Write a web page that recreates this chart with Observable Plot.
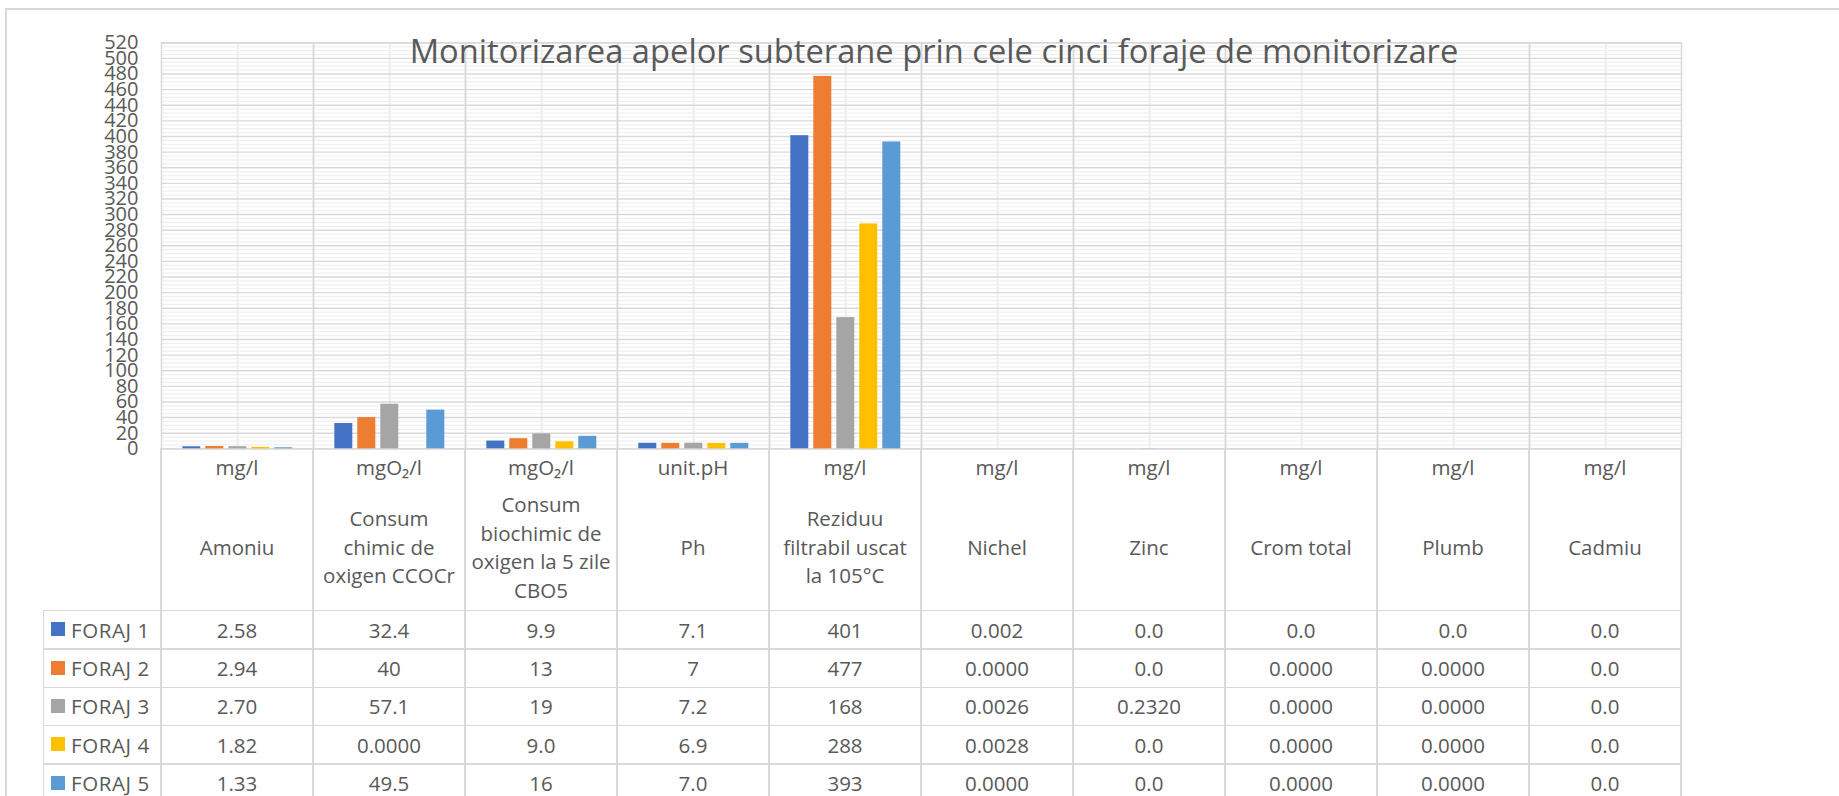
<!DOCTYPE html>
<html>
<head>
<meta charset="utf-8">
<script src="https://cdn.jsdelivr.net/npm/d3@7"></script>
<script src="https://cdn.jsdelivr.net/npm/@observablehq/plot@0.6"></script>
<style>
  html, body { margin: 0; padding: 0; background: #fff; }
  #wrap { position: relative; width: 1839px; height: 796px; overflow: hidden; font-family: 'Open Sans', sans-serif; color: #595959; }
  .ln { position: absolute; background: #d9d9d9; }
  .cell { position: absolute; display: flex; align-items: center; justify-content: center; text-align: center; font-size: 20.5px; white-space: pre-line; }
  .leg { letter-spacing: 0.6px; }
  #title { position: absolute; left: 0; width: 1868px; top: 35px; text-align: center; font-size: 32.7px; line-height: 32.7px; color: #595959; white-space: nowrap; }
</style>
</head>
<body>
<div id="wrap">
  <div class="ln" style="left:5px;top:8px;width:1.5px;height:800px;"></div>
  <div class="ln" style="left:5px;top:8px;width:1840px;height:1.5px;"></div>
  <div id="chart" style="position:absolute;left:0;top:0;"></div>
  <div id="table"></div>
  <div id="title">Monitorizarea apelor subterane prin cele cinci foraje de monitorizare</div>
</div>
<script>
// ---- data ----
const categories = ["Amoniu", "Consum\nchimic de\noxigen CCOCr", "Consum\nbiochimic de\noxigen la 5 zile\nCBO5", "Ph", "Reziduu\nfiltrabil uscat\nla 105°C", "Nichel", "Zinc", "Crom total", "Plumb", "Cadmiu"];
const units = ["mg/l", "mgO₂/l", "mgO₂/l", "unit.pH", "mg/l", "mg/l", "mg/l", "mg/l", "mg/l", "mg/l"];
const series = ["FORAJ 1", "FORAJ 2", "FORAJ 3", "FORAJ 4", "FORAJ 5"];
const colors = ["#4472C4", "#ED7D31", "#A5A5A5", "#FFC000", "#5B9BD5"];

const foraj1 = [2.58, 32.4, 9.9, 7.1, 401, 0.002, 0, 0, 0, 0];
const foraj2 = [2.94, 40, 13, 7, 477, 0, 0, 0, 0, 0];
const foraj3 = [2.70, 57.1, 19, 7.2, 168, 0.0026, 0.232, 0, 0, 0];
const foraj4 = [1.82, 0, 9.0, 6.9, 288, 0.0028, 0, 0, 0, 0];
const foraj5 = [1.33, 49.5, 16, 7.0, 393, 0, 0, 0, 0, 0];

const labels1 = ["2.58", "32.4", "9.9", "7.1", "401", "0.002", "0.0", "0.0", "0.0", "0.0"];
const labels2 = ["2.94", "40", "13", "7", "477", "0.0000", "0.0", "0.0000", "0.0000", "0.0"];
const labels3 = ["2.70", "57.1", "19", "7.2", "168", "0.0026", "0.2320", "0.0000", "0.0000", "0.0"];
const labels4 = ["1.82", "0.0000", "9.0", "6.9", "288", "0.0028", "0.0", "0.0000", "0.0000", "0.0"];
const labels5 = ["1.33", "49.5", "16", "7.0", "393", "0.0000", "0.0", "0.0000", "0.0000", "0.0"];

const yMax = 520;
const majorStep = 20;
const minorStep = 5;

// ---- build ----
const values = [foraj1, foraj2, foraj3, foraj4, foraj5];
const labels = [labels1, labels2, labels3, labels4, labels5];
const rows = [];
series.forEach((s, j) => categories.forEach((c, i) => rows.push({cat: c, series: s, value: values[j][i]})));
const majorTicks = d3.range(0, yMax + 1, majorStep);
const minorTicks = d3.range(0, yMax + 1, minorStep).filter(v => v % majorStep !== 0);

const plot = Plot.plot({
  width: 1839,
  height: 452,
  marginLeft: 156.7,
  marginRight: 153.5,
  marginTop: 42.3,
  marginBottom: 3.7,
  style: {fontFamily: "'Open Sans', sans-serif", fontSize: "20px", color: "#595959", background: "transparent", overflow: "visible"},
  fx: {domain: categories, padding: 0, axis: null},
  x: {domain: series, paddingInner: 0.213, paddingOuter: 0.857, axis: null},
  y: {domain: [0, yMax], ticks: majorTicks, tickSize: 0, tickPadding: 23, label: null},
  color: {domain: series, range: colors},
  marks: [
    Plot.ruleY(minorTicks, {stroke: "#f0f0f0", strokeWidth: 1.2}),
    Plot.ruleX([series[2]], {stroke: "#eeeeee", strokeWidth: 2}),
    Plot.ruleY(majorTicks, {stroke: "#d9d9d9", strokeWidth: 1.4}),
    Plot.frame({stroke: "#d9d9d9", strokeWidth: 1.5}),
    Plot.barY(rows, {fx: "cat", x: "series", y: "value", fill: "series"})
  ]
});
document.getElementById("chart").appendChild(plot);

// ---- data table aligned to the fx scale ----
const fx = plot.scale("fx");
const bw = fx.bandwidth;
const left = c => (fx.apply ? fx.apply(c) : fx.range[0] + categories.indexOf(c) * fx.step);
const tbl = document.getElementById("table");
function add(html, style, cls) {
  const d = document.createElement("div");
  d.className = cls;
  d.style.cssText = style;
  if (html != null) d.textContent = html;
  tbl.appendChild(d);
}
const headTop = 448.3, headBottom = 610.7, rowH = 38.3, legendLeft = 43.3;
const xEnd = left(categories[categories.length - 1]) + bw;
// vertical lines
categories.forEach(c => add(null, `left:${left(c) - 0.75}px;top:${headTop}px;width:1.5px;height:400px;`, "ln"));
add(null, `left:${xEnd - 0.75}px;top:${headTop}px;width:1.5px;height:400px;`, "ln");
add(null, `left:${legendLeft - 0.75}px;top:${headBottom}px;width:1.5px;height:400px;`, "ln");
// horizontal lines
for (let r = 0; r <= series.length; r++) {
  const y = headBottom + r * rowH;
  add(null, `left:${legendLeft}px;top:${y - 0.75}px;width:${xEnd - legendLeft}px;height:1.5px;`, "ln");
}
// header cells
categories.forEach((c, i) => {
  const L = left(c);
  add(units[i], `left:${L}px;top:449px;width:${bw}px;height:36px;line-height:36px;`, "cell");
  add(c, `left:${L}px;top:485px;width:${bw}px;height:124px;line-height:28.5px;`, "cell");
});
// rows
series.forEach((s, j) => {
  const top = headBottom + j * rowH;
  add(null, `left:51px;top:${top + 11.6}px;width:14px;height:14px;background:${colors[j]};`, "ln");
  add(s, `left:71px;top:${top}px;height:${rowH}px;line-height:${rowH}px;justify-content:flex-start;`, "cell leg");
  categories.forEach((c, i) => {
    add(labels[j][i], `left:${left(c)}px;top:${top}px;width:${bw}px;height:${rowH}px;line-height:${rowH}px;`, "cell");
  });
});
</script>
</body>
</html>
